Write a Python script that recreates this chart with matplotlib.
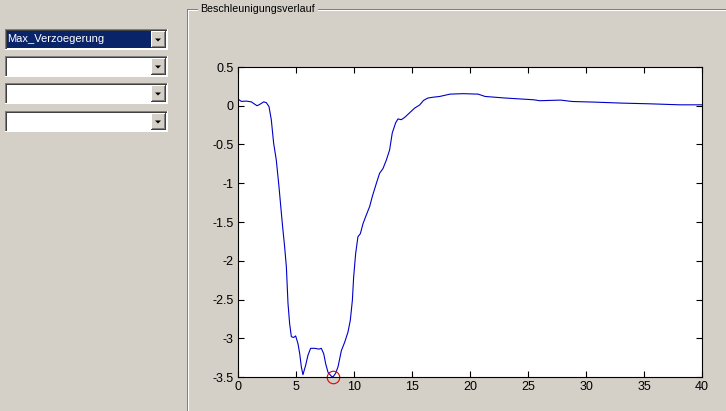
import matplotlib
matplotlib.use('Agg')
import matplotlib.pyplot as plt
from matplotlib.patches import Rectangle, Polygon
import numpy as np

# ---- data ----
time_s = [0.0, 0.29, 0.72, 1.15, 1.64, 1.87, 2.21, 2.44, 2.67, 2.87, 3.07, 3.30, 3.53,
          3.82, 4.02, 4.17, 4.31, 4.45, 4.60, 4.80, 4.97, 5.17, 5.32, 5.46, 5.60, 5.83,
          6.03, 6.26, 6.61, 6.98, 7.18, 7.39, 7.56, 7.76, 8.05, 8.19, 8.42, 8.62, 8.91,
          9.20, 9.48, 9.68, 9.86, 9.97, 10.14, 10.34, 10.55, 10.78, 11.06, 11.35, 11.58,
          11.93, 12.21, 12.50, 12.79, 13.07, 13.30, 13.59, 13.79, 14.08, 14.37, 14.80,
          15.23, 15.66, 16.0, 16.38, 16.81, 17.39, 18.28, 19.4, 20.7, 21.3, 23.0, 25.5,
          26.0, 27.8, 28.8, 30.7, 33.1, 35.5, 38.1, 40.0]
accel = [0.086, 0.056, 0.06, 0.05, 0.0, 0.017, 0.05, 0.04, -0.01, -0.18, -0.48, -0.70,
         -1.04, -1.52, -1.82, -2.08, -2.55, -2.81, -2.98, -2.99, -2.97, -3.07, -3.20,
         -3.37, -3.47, -3.35, -3.22, -3.13, -3.13, -3.14, -3.13, -3.20, -3.33, -3.44,
         -3.49, -3.50, -3.45, -3.37, -3.16, -3.05, -2.92, -2.77, -2.51, -2.21, -1.91,
         -1.69, -1.65, -1.52, -1.41, -1.30, -1.17, -1.00, -0.87, -0.81, -0.70, -0.57,
         -0.35, -0.22, -0.17, -0.18, -0.15, -0.09, -0.03, 0.01, 0.07, 0.10, 0.11, 0.12,
         0.15, 0.156, 0.15, 0.12, 0.10, 0.077, 0.065, 0.073, 0.055, 0.047, 0.034, 0.025,
         0.012, 0.012]
min_time = 8.19
min_accel = -3.50

x_ticks = [0, 5, 10, 15, 20, 25, 30, 35, 40]
y_ticks = [-3.5, -3, -2.5, -2, -1.5, -1, -0.5, 0, 0.5]
y_ticklabels = ['-3.5', '-3', '-2.5', '-2', '-1.5', '-1', '-0.5', '0', '0.5']

panel_title = 'Beschleunigungsverlauf'
popup_labels = ['Max_Verzoegerung', '', '', '']

# ---- figure ----
W, H = 726, 411
BG = '#d4d0c8'
plt.rcParams['font.family'] = ['Liberation Sans', 'DejaVu Sans']
fig = plt.figure(figsize=(W / 100, H / 100), dpi=100, facecolor=BG)

def fx(x):
    return x / W

def fy(y):
    return 1 - y / H

def rect(x0, y0, x1, y1, fc):
    """Filled rectangle in pixel coordinates (y downward)."""
    fig.add_artist(Rectangle((fx(x0), fy(y1)), fx(x1) - fx(x0), fy(y0) - fy(y1),
                             facecolor=fc, edgecolor='none', lw=0,
                             transform=fig.transFigure, antialiased=False))

def hpix(x0, x1, y, color):
    rect(x0, y, x1, y + 1, color)

def vpix(x, y0, y1, color):
    rect(x, y0, x + 1, y1, color)

# ---- panel frame (etched) ----
hpix(187, 198, 9, '#808080')
hpix(188, 198, 10, 'white')
hpix(318, 726, 9, '#808080')
hpix(318, 726, 10, 'white')
vpix(187, 9, 411, '#808080')
vpix(188, 10, 411, 'white')
fig.text(fx(200), fy(9), panel_title, fontsize=7.7, va='center', ha='left', color='black')

# ---- popup menus ----
tops = [29, 56, 83, 111]
for lbl, t in zip(popup_labels, tops):
    b = t + 21
    x0, x1 = 5, 168
    face = '#0a246a' if lbl else 'white'
    rect(x0, t, x1, b, BG)
    rect(x0 + 2, t + 2, x1 - 1, b - 1, 'white')
    rect(x0 + 2, t + 2, x1 - 2, b - 2, face)
    # sunken border
    hpix(x0, x1, t, '#808080')
    vpix(x0, t, b, '#808080')
    hpix(x0 + 1, x1 - 1, t + 1, '#404040')
    vpix(x0 + 1, t + 1, b - 1, '#404040')
    hpix(x0, x1, b - 1, 'white')
    vpix(x1 - 1, t, b, 'white')
    # arrow button
    bx0, bx1 = x1 - 17, x1 - 2
    by0, by1 = t + 2, b - 2
    rect(bx0, by0, bx1, by1, BG)
    hpix(bx0, bx1, by0, 'white')
    vpix(bx0, by0, by1, 'white')
    hpix(bx0, bx1, by1 - 1, '#404040')
    vpix(bx1 - 1, by0, by1, '#404040')
    hpix(bx0 + 1, bx1 - 1, by1 - 2, '#808080')
    vpix(bx1 - 2, by0 + 1, by1 - 1, '#808080')
    cx = (bx0 + bx1) / 2 - 0.5
    cy = (by0 + by1) / 2
    fig.add_artist(Polygon([[fx(cx - 3), fy(cy - 1)], [fx(cx + 3), fy(cy - 1)],
                            [fx(cx), fy(cy + 2)]], closed=True, facecolor='black',
                           edgecolor='none', transform=fig.transFigure))
    if lbl:
        fig.text(fx(7), fy((t + b) / 2), lbl, fontsize=8, va='center', ha='left',
                 color='white')

# ---- axes ----
ax = fig.add_axes([238 / W, 1 - 377 / H, 464 / W, 310 / H])
ax.set_facecolor('white')
ax.plot(time_s, accel, color='#0000c8', lw=0.8)
ax.plot([min_time], [min_accel], 'o', markerfacecolor='none', markeredgecolor='#e00000',
        markersize=9, mew=0.8, clip_on=False)
ax.set_xlim(0, 40)
ax.set_ylim(-3.5, 0.5)
ax.set_xticks(x_ticks)
ax.set_xticklabels([str(v) for v in x_ticks])
ax.set_yticks(y_ticks)
ax.set_yticklabels(y_ticklabels)
ax.tick_params(direction='in', length=4, width=0.8, top=True, right=True,
               labelsize=9, pad=3, colors='black')
for s in ax.spines.values():
    s.set_linewidth(0.8)
    s.set_color('black')

fig.savefig('out.png', dpi=100, facecolor=BG)
